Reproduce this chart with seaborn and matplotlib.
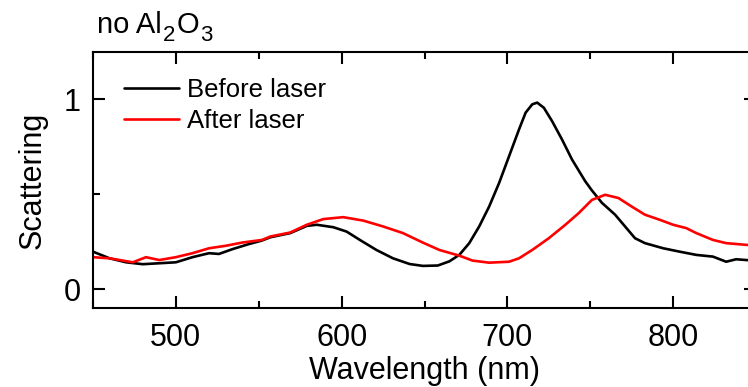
import numpy as np
import pandas as pd
import matplotlib
matplotlib.use("Agg")
import matplotlib.pyplot as plt
import seaborn as sns
from matplotlib.ticker import MultipleLocator

# Scattering spectra of the nanostructure before and after laser exposure
wl_before = [450, 460, 470, 480, 490, 500, 510, 520, 526, 534, 544, 552, 557,
             569, 579, 585, 595, 603, 611, 621, 631, 641, 649, 658, 665, 671,
             677, 683, 689, 695, 701, 707, 711, 715, 718, 722, 727, 733, 739,
             747, 751, 757, 765, 771, 777, 783, 794, 804, 814, 824, 832, 838,
             844, 850]
sc_before = [0.197, 0.162, 0.141, 0.131, 0.136, 0.141, 0.168, 0.189, 0.185,
             0.210, 0.237, 0.256, 0.273, 0.295, 0.333, 0.339, 0.326, 0.303,
             0.259, 0.206, 0.162, 0.132, 0.122, 0.124, 0.146, 0.180, 0.242,
             0.330, 0.435, 0.559, 0.700, 0.841, 0.930, 0.974, 0.983, 0.956,
             0.885, 0.788, 0.683, 0.568, 0.520, 0.455, 0.392, 0.330, 0.268,
             0.242, 0.215, 0.197, 0.180, 0.171, 0.144, 0.157, 0.153, 0.150]

wl_after = [450, 460, 474, 482, 490, 500, 510, 520, 530, 540, 552, 557, 569,
            579, 589, 601, 613, 625, 637, 649, 659, 671, 679, 689, 701, 707,
            715, 725, 735, 743, 751, 759, 767, 775, 783, 792, 800, 808, 814,
            824, 832, 844, 850]
sc_after = [0.168, 0.162, 0.141, 0.168, 0.153, 0.168, 0.189, 0.215, 0.228,
            0.245, 0.259, 0.277, 0.298, 0.339, 0.369, 0.379, 0.361, 0.330,
            0.295, 0.245, 0.206, 0.176, 0.150, 0.139, 0.144, 0.162, 0.206,
            0.268, 0.339, 0.400, 0.470, 0.497, 0.480, 0.435, 0.392, 0.365,
            0.339, 0.321, 0.295, 0.259, 0.242, 0.233, 0.230]

series_names = ["Before laser", "After laser"]
series_colors = ["#000000", "#ff0000"]

df = pd.concat([
    pd.DataFrame({"Wavelength": wl_before, "Scattering": sc_before,
                  "series": series_names[0]}),
    pd.DataFrame({"Wavelength": wl_after, "Scattering": sc_after,
                  "series": series_names[1]}),
])

sns.set_theme(style="ticks")
plt.rcParams["font.family"] = ["Liberation Sans", "DejaVu Sans"]
for key in ("text.color", "axes.labelcolor", "xtick.color", "ytick.color",
            "axes.edgecolor"):
    plt.rcParams[key] = "black"

fig = plt.figure(figsize=(7.48, 3.87), dpi=100)
ax = fig.add_axes([93 / 748, 79 / 387, 663 / 748, 256 / 387])

sns.lineplot(data=df, x="Wavelength", y="Scattering", hue="series",
             hue_order=series_names, palette=series_colors, linewidth=1.9,
             ax=ax, sort=False, estimator=None)

ax.set_xlim(450, 850)
ax.set_ylim(-0.1, 1.25)
ax.xaxis.set_major_locator(MultipleLocator(100))
ax.xaxis.set_minor_locator(MultipleLocator(50))
ax.yaxis.set_major_locator(MultipleLocator(1))
ax.yaxis.set_minor_locator(MultipleLocator(0.5))

ax.tick_params(which="both", direction="in", top=True, right=True,
               width=1.5, labelsize=22)
ax.tick_params(axis="x", pad=11)
ax.tick_params(axis="y", pad=9)
ax.tick_params(which="major", length=8.6)
ax.tick_params(which="minor", length=5)
for s in ax.spines.values():
    s.set_linewidth(1.5)

ax.set_xlabel("Wavelength (nm)", fontsize=22, labelpad=2)
ax.set_ylabel("Scattering", fontsize=22, labelpad=11)

leg = ax.legend(loc="upper left", frameon=False, fontsize=18.5,
                handlelength=2.15, handletextpad=0.3, labelspacing=0.3,
                borderaxespad=0.3, bbox_to_anchor=(0.02, 0.97))
for line in leg.get_lines():
    line.set_linewidth(1.9)

# Title "no Al2O3" with lowered subscripts, laid out piece by piece
renderer = fig.canvas.get_renderer()
pieces = [("no Al", 21, 0), ("2", 16, -6), ("O", 21, 0), ("3", 16, -6)]
x_px = 97.0
base_px = 387 - 33
for txt, size, dy in pieces:
    t = fig.text(x_px / 748, (base_px + dy * 100 / 72) / 387, txt,
                 fontsize=size, ha="left", va="baseline")
    bb = t.get_window_extent(renderer=renderer)
    x_px = bb.x1 + 1.0

fig.savefig("out.png", dpi=100)
